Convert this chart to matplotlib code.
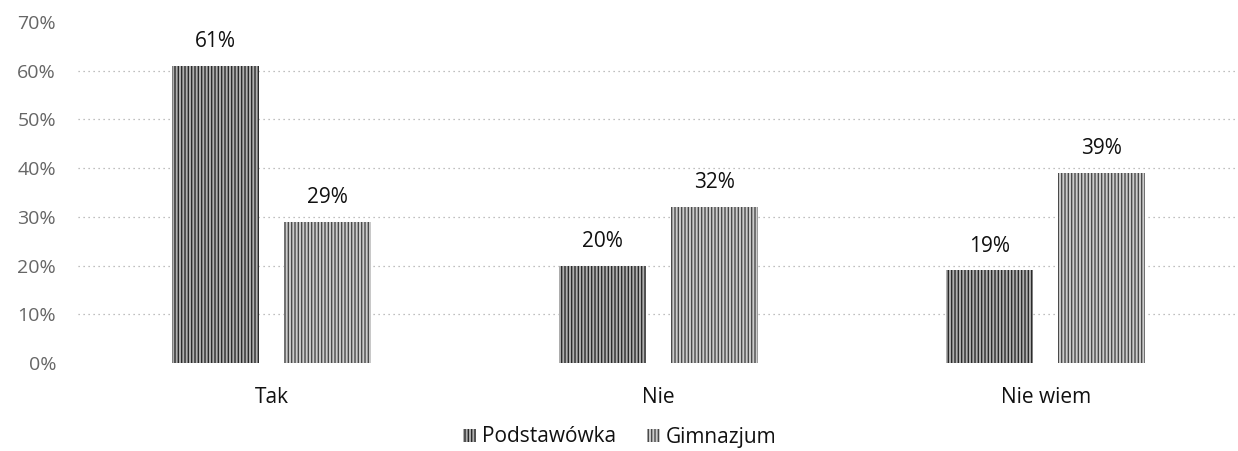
import matplotlib
matplotlib.use("Agg")
import matplotlib.pyplot as plt
import numpy as np

categories = ["Tak", "Nie", "Nie wiem"]
series_names = ["Podstawówka", "Gimnazjum"]
podstawowka = [61, 20, 19]
gimnazjum = [29, 32, 39]
yticks = [0, 10, 20, 30, 40, 50, 60, 70]
grid_levels = [10, 20, 30, 40, 50, 60]

plt.rcParams['font.family'] = ['Open Sans', 'DejaVu Sans']
plt.rcParams['hatch.linewidth'] = 1.0

fig = plt.figure(figsize=(12.38, 4.51), dpi=100)
ax = fig.add_axes([0.0632, 0.1951, 0.9368, 0.7561])

x = np.arange(len(categories))
w = 0.2245
off = 0.1445

styles = [
    dict(facecolor='#b0b0b0', edgecolor='#2a2a2a', hatch='|||||'),
    dict(facecolor='#cccccc', edgecolor='#4a4a4a', hatch='|||||'),
]
for i, (vals, name) in enumerate(zip([podstawowka, gimnazjum], series_names)):
    pos = x - off if i == 0 else x + off
    bars = ax.bar(pos, vals, width=w, linewidth=0, label=name, zorder=2, **styles[i])
    for b, v in zip(bars, vals):
        ax.annotate(f"{v}%", (b.get_x() + b.get_width() / 2, v),
                    xytext=(0, 10), textcoords='offset points',
                    ha='center', va='bottom', fontsize=15, color='#111111')

for g in grid_levels:
    ax.axhline(g, linestyle=(0, (1, 3)), color='#aaaaaa', linewidth=0.9, zorder=1)

ax.set_xlim(-0.5, 2.497)
ax.set_ylim(0, 70)
ax.set_yticks(yticks)
ax.set_yticklabels([f"{t}%" for t in yticks], color='#666666', fontsize=14)
ax.set_xticks(x)
ax.set_xticklabels(categories, fontsize=15, color='#111111')
ax.tick_params(axis='y', length=0, pad=16)
ax.tick_params(axis='x', length=0, pad=17)
for s in ax.spines.values():
    s.set_visible(False)

fig.legend(loc='center', bbox_to_anchor=(620 / 1238, 1 - 437 / 451), ncol=2,
           frameon=False, fontsize=15, handlelength=0.6, handleheight=0.6,
           handletextpad=0.3, columnspacing=1.5, labelcolor='#111111')

fig.savefig("out.png", dpi=100)
